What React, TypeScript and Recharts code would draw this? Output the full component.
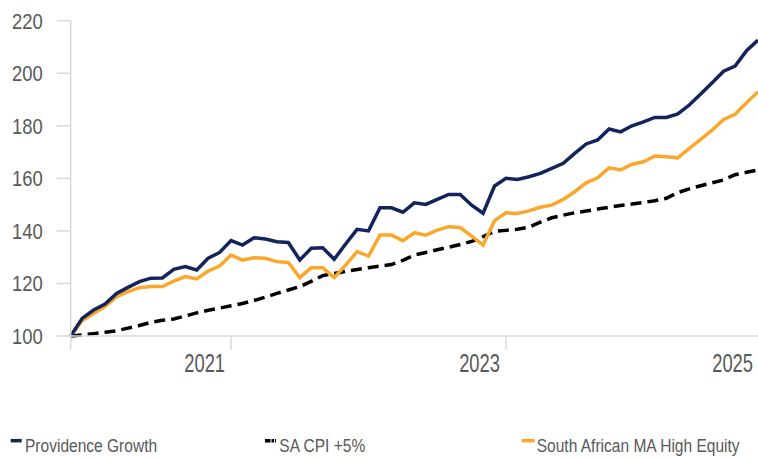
import React from "react";
import { LineChart, Line, XAxis, YAxis } from "recharts";

// monthly index values, Jan 2020 = 100
const months: string[] = [];
for (let y = 2020; y <= 2025; y++) {
  for (let m = 1; m <= 12; m++) {
    if (y === 2025 && m > 1) break;
    months.push(`${y}-${String(m).padStart(2, "0")}`);
  }
}

const providence = [
  100, 106.7, 109.9, 112.2, 116.2, 118.5, 120.7, 122, 122.1, 125.4,
  126.4, 125.1, 129.6, 131.8, 136.3, 134.6, 137.4, 136.9, 135.9, 135.6,
  128.9, 133.4, 133.6, 129.2, 135, 140.6, 140, 148.8, 148.8, 147.1,
  150.7, 150.1, 152, 153.9, 153.9, 149.8, 146.7, 157.1, 160, 159.6,
  160.6, 161.9, 163.8, 165.7, 169.5, 173.1, 174.6, 178.8, 177.7, 180,
  181.5, 183.2, 183.2, 184.5, 187.9, 192.1, 196.4, 200.8, 202.7, 208.6, 212.6,
];

const cpiPlus5 = [
  100, 100.4, 100.9, 101.4, 102, 103, 104, 105.2, 106, 106.5,
  107.6, 108.8, 109.8, 110.6, 111.5, 112.4, 113.5, 114.8, 116.2, 117.5,
  118.8, 120.8, 123, 123.8, 124.6, 125.3, 126, 126.6, 127.2, 128.8,
  130.8, 131.8, 132.8, 133.8, 134.8, 136, 137.8, 139.8, 140.2, 140.6,
  141.4, 143.3, 145, 146, 146.9, 147.6, 148.3, 149, 149.7, 150.2,
  150.8, 151.5, 152.4, 154.6, 156, 157.2, 158.3, 159.4, 161.4, 162.3, 163.2,
];

const maHighEquity = [
  100, 105.8, 108.6, 111.2, 115, 116.9, 118.4, 118.8, 118.8, 120.9,
  122.6, 121.7, 124.7, 126.6, 130.8, 128.9, 129.8, 129.6, 128.3, 128,
  122.2, 126, 126, 122.2, 127, 132.1, 130.4, 138.4, 138.4, 136.3,
  139.3, 138.4, 140.3, 141.6, 141.3, 138, 134.6, 143.9, 146.9, 146.6,
  147.6, 149, 149.8, 152, 154.9, 158.3, 160.2, 164, 163.2, 165.4,
  166.3, 168.5, 168.2, 167.8, 171.4, 174.8, 178.4, 182.4, 184.4, 188.8, 193,
];

const yTicks = [100, 120, 140, 160, 180, 200, 220];
const xTickValues = ["2020-01", "2021-03", "2023-03", "2025-01"];
const xTickLabels = ["", "2021", "2023", "2025"];

const NAVY = "#13235B";
const ORANGE = "#F9A82B";
const AXIS = "#d9d9d9";
const TEXT = "#595959";
// no condensed font installed, so Liberation Sans gets squeezed horizontally
const FONT = "'Liberation Sans', Arial, sans-serif";

const data = months.map((m, i) => ({
  month: m,
  providence: providence[i],
  cpi: cpiPlus5[i],
  ma: maHighEquity[i],
}));

function XTick(props: any) {
  const { x, y, payload } = props;
  const idx = xTickValues.indexOf(payload.value);
  const isLast = idx === xTickValues.length - 1;
  const tx = isLast ? 753 : x - 6;
  // y comes in already shifted by tickSize + tickMargin (6 + 2)
  const axisY = y - 8;
  return (
    <g>
      {!isLast && <line x1={x} y1={axisY} x2={x} y2={axisY + 14} stroke={AXIS} strokeWidth={1.5} />}
      <text
        transform={`translate(${tx},${axisY + 35.7}) scale(0.72,1)`}
        textAnchor="end"
        fill={TEXT}
        fontSize={25.5}
        fontFamily={FONT}
      >
        {xTickLabels[idx]}
      </text>
    </g>
  );
}

function YTick(props: any) {
  const { x, y, payload } = props;
  return (
    <text
      transform={`translate(${x},${y}) scale(0.82,1)`}
      dy="0.355em"
      textAnchor="end"
      fill={TEXT}
      fontSize={22.5}
      fontFamily={FONT}
    >
      {payload.value}
    </text>
  );
}

const legendItems = [
  { label: "Providence Growth", color: NAVY, dashed: false, iconX: 10.7, iconW: 11, textX: 25 },
  { label: "SA CPI +5%", color: "#000", dashed: true, iconX: 265, iconW: 11, textX: 279.3 },
  { label: "South African MA High Equity", color: ORANGE, dashed: false, iconX: 521.7, iconW: 13, textX: 536.7 },
];

export default function App() {
  return (
    <div style={{ position: "absolute", left: 0, top: 0, width: 758, height: 459, background: "#fff" }}>
      <LineChart width={758} height={459} data={data} margin={{ top: 20.7, right: 0, bottom: 0, left: 0 }}>
        <XAxis
          dataKey="month"
          ticks={xTickValues}
          interval={0}
          height={123}
          axisLine={{ stroke: AXIS, strokeWidth: 1.5 }}
          tickLine={false}
          tick={<XTick />}
        />
        <YAxis
          domain={[100, 220]}
          ticks={yTicks}
          width={70.7}
          tickSize={14}
          tickMargin={14}
          axisLine={{ stroke: AXIS, strokeWidth: 1.5 }}
          tickLine={{ stroke: AXIS, strokeWidth: 1.5 }}
          tick={<YTick />}
        />
        <Line dataKey="cpi" stroke="#000" strokeWidth={3.5} strokeDasharray="11 6" dot={false} isAnimationActive={false} />
        <Line dataKey="ma" stroke={ORANGE} strokeWidth={3.5} dot={false} isAnimationActive={false} />
        <Line dataKey="providence" stroke={NAVY} strokeWidth={3.5} dot={false} isAnimationActive={false} />
      </LineChart>
      <svg width={758} height={459} style={{ position: "absolute", left: 0, top: 0, pointerEvents: "none" }}>
        {legendItems.map((it) => (
          <g key={it.label}>
            <line
              x1={it.iconX}
              y1={440.7}
              x2={it.iconX + it.iconW}
              y2={440.7}
              stroke={it.color}
              strokeWidth={3.5}
              strokeDasharray={it.dashed ? "5.5 1 2.5 1 1 9" : undefined}
            />
            <text
              transform={`translate(${it.textX},451.7) scale(0.84,1)`}
              fill={TEXT}
              fontSize={18.5}
              fontFamily={FONT}
            >
              {it.label}
            </text>
          </g>
        ))}
      </svg>
    </div>
  );
}
